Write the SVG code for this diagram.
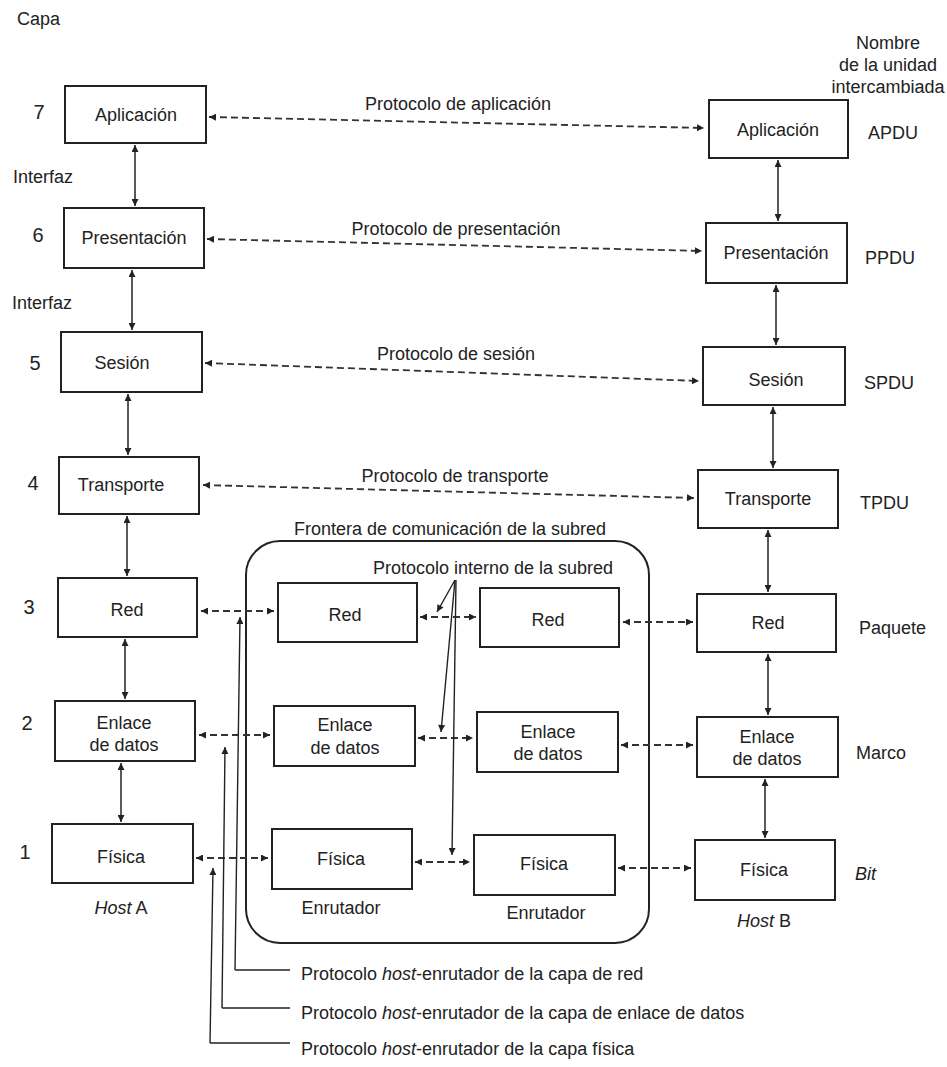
<svg xmlns="http://www.w3.org/2000/svg" width="947" height="1067" viewBox="0 0 947 1067">
<defs>
<marker id="ah" viewBox="0 0 10 10" refX="10" refY="5" markerWidth="10" markerHeight="7" markerUnits="userSpaceOnUse" orient="auto-start-reverse">
<path d="M0,0 L10,5 L0,10 z" fill="#222"/>
</marker>
<style>
.box{fill:#fff;stroke:#222;stroke-width:2}
.t{font-family:"Liberation Sans",Arial,sans-serif;font-size:18px;fill:#222}
.c{text-anchor:middle}
.n{font-family:"Liberation Sans",Arial,sans-serif;font-size:20px;fill:#222;text-anchor:middle}
.d{stroke:#333;stroke-width:1.8;stroke-dasharray:7 4;fill:none;marker-start:url(#ah);marker-end:url(#ah)}
.v{stroke:#222;stroke-width:1.5;fill:none;marker-start:url(#ah);marker-end:url(#ah)}
.s{stroke:#222;stroke-width:1.4;fill:none}
.sa{stroke:#222;stroke-width:1.4;fill:none;marker-end:url(#ah)}
.i{font-style:italic}
</style>
</defs>
<rect width="947" height="1067" fill="#fff"/>

<g id="labels">
<text class="t" x="17" y="25">Capa</text>
<text class="t c" x="888" y="49">Nombre</text>
<text class="t c" x="888" y="71">de la unidad</text>
<text class="t c" x="888" y="93">intercambiada</text>
<text class="n" x="39" y="119">7</text>
<text class="n" x="38" y="242">6</text>
<text class="n" x="35" y="370">5</text>
<text class="n" x="33" y="490">4</text>
<text class="n" x="29" y="614">3</text>
<text class="n" x="27" y="730">2</text>
<text class="n" x="25" y="859">1</text>
<text class="t" x="13" y="183">Interfaz</text>
<text class="t" x="12" y="309">Interfaz</text>
<text class="t" x="868" y="139">APDU</text>
<text class="t" x="865" y="264">PPDU</text>
<text class="t" x="864" y="389">SPDU</text>
<text class="t" x="860" y="509">TPDU</text>
<text class="t" x="859" y="634">Paquete</text>
<text class="t" x="856" y="759">Marco</text>
<text class="t i" x="855" y="880">Bit</text>
<text class="t c" x="121" y="914"><tspan class="i">Host</tspan> A</text>
<text class="t c" x="764" y="927"><tspan class="i">Host</tspan> B</text>
<text class="t c" x="341" y="914">Enrutador</text>
<text class="t c" x="546" y="919">Enrutador</text>
<text class="t c" x="458" y="110">Protocolo de aplicación</text>
<text class="t c" x="456" y="235">Protocolo de presentación</text>
<text class="t c" x="456" y="360">Protocolo de sesión</text>
<text class="t c" x="455" y="482">Protocolo de transporte</text>
<text class="t c" x="450" y="535">Frontera de comunicación de la subred</text>
<text class="t c" x="493" y="574">Protocolo interno de la subred</text>
<text class="t" x="301" y="980">Protocolo <tspan class="i">host</tspan>-enrutador de la capa de red</text>
<text class="t" x="301" y="1019">Protocolo <tspan class="i">host</tspan>-enrutador de la capa de enlace de datos</text>
<text class="t" x="301" y="1055">Protocolo <tspan class="i">host</tspan>-enrutador de la capa física</text>
</g>

<g id="subred">
<rect x="246" y="541" width="403" height="402" rx="34" ry="34" fill="none" stroke="#222" stroke-width="2"/>
</g>

<g id="hostA-aplicacion"><rect class="box" x="65" y="86" width="141" height="57"/><text class="t c" x="136" y="121">Aplicación</text></g>
<g id="hostA-presentacion"><rect class="box" x="64" y="208" width="140" height="60"/><text class="t c" x="134" y="244">Presentación</text></g>
<g id="hostA-sesion"><rect class="box" x="61" y="332" width="141" height="60"/><text class="t c" x="122" y="369">Sesión</text></g>
<g id="hostA-transporte"><rect class="box" x="59" y="457" width="140" height="57"/><text class="t c" x="121" y="491">Transporte</text></g>
<g id="hostA-red"><rect class="box" x="58" y="578" width="139" height="59"/><text class="t c" x="127" y="616">Red</text></g>
<g id="hostA-enlace"><rect class="box" x="55" y="701" width="140" height="60"/><text class="t c" x="124" y="729">Enlace</text><text class="t c" x="124" y="751">de datos</text></g>
<g id="hostA-fisica"><rect class="box" x="52" y="824" width="141" height="59"/><text class="t c" x="121" y="863">Física</text></g>

<g id="hostB-aplicacion"><rect class="box" x="709" y="100" width="139" height="58"/><text class="t c" x="778" y="136">Aplicación</text></g>
<g id="hostB-presentacion"><rect class="box" x="706" y="223" width="141" height="60"/><text class="t c" x="776" y="259">Presentación</text></g>
<g id="hostB-sesion"><rect class="box" x="703" y="347" width="142" height="58"/><text class="t c" x="776" y="386">Sesión</text></g>
<g id="hostB-transporte"><rect class="box" x="698" y="470" width="140" height="58"/><text class="t c" x="768" y="505">Transporte</text></g>
<g id="hostB-red"><rect class="box" x="697" y="594" width="139" height="58"/><text class="t c" x="768" y="629">Red</text></g>
<g id="hostB-enlace"><rect class="box" x="697" y="717" width="141" height="60"/><text class="t c" x="767" y="743">Enlace</text><text class="t c" x="767" y="765">de datos</text></g>
<g id="hostB-fisica"><rect class="box" x="695" y="840" width="140" height="60"/><text class="t c" x="764" y="876">Física</text></g>

<g id="r1-red"><rect class="box" x="278" y="583" width="139" height="59"/><text class="t c" x="345" y="621">Red</text></g>
<g id="r2-red"><rect class="box" x="480" y="588" width="139" height="59"/><text class="t c" x="548" y="626">Red</text></g>
<g id="r1-enlace"><rect class="box" x="274" y="706" width="141" height="60"/><text class="t c" x="345" y="731">Enlace</text><text class="t c" x="345" y="754">de datos</text></g>
<g id="r2-enlace"><rect class="box" x="477" y="712" width="141" height="60"/><text class="t c" x="548" y="738">Enlace</text><text class="t c" x="548" y="760">de datos</text></g>
<g id="r1-fisica"><rect class="box" x="272" y="829" width="140" height="60"/><text class="t c" x="341" y="865">Física</text></g>
<g id="r2-fisica"><rect class="box" x="474" y="835" width="141" height="60"/><text class="t c" x="544" y="870">Física</text></g>

<g id="connectors">
<line class="d" x1="209" y1="117" x2="704" y2="128"/>
<line class="d" x1="207" y1="239" x2="702" y2="251"/>
<line class="d" x1="205" y1="363" x2="699" y2="381"/>
<line class="d" x1="203" y1="485" x2="694" y2="498"/>
<line class="d" x1="201" y1="611" x2="274" y2="611"/>
<line class="d" x1="420" y1="617" x2="476" y2="617"/>
<line class="d" x1="623" y1="622" x2="693" y2="622"/>
<line class="d" x1="199" y1="735" x2="270" y2="735"/>
<line class="d" x1="418" y1="738" x2="473" y2="738"/>
<line class="d" x1="621" y1="745" x2="693" y2="745"/>
<line class="d" x1="196" y1="858" x2="268" y2="858"/>
<line class="d" x1="415" y1="862" x2="470" y2="862"/>
<line class="d" x1="618" y1="868" x2="691" y2="868"/>

<line class="v" x1="135" y1="145" x2="135" y2="206"/>
<line class="v" x1="132" y1="270" x2="132" y2="330"/>
<line class="v" x1="128" y1="394" x2="128" y2="455"/>
<line class="v" x1="127" y1="516" x2="127" y2="576"/>
<line class="v" x1="125" y1="639" x2="125" y2="699"/>
<line class="v" x1="121" y1="763" x2="121" y2="822"/>
<line class="v" x1="778" y1="160" x2="778" y2="221"/>
<line class="v" x1="776" y1="285" x2="776" y2="345"/>
<line class="v" x1="773" y1="407" x2="773" y2="468"/>
<line class="v" x1="768" y1="530" x2="768" y2="592"/>
<line class="v" x1="768" y1="654" x2="768" y2="715"/>
<line class="v" x1="765" y1="779" x2="765" y2="838"/>

<line class="sa" x1="455" y1="580" x2="437" y2="612"/>
<line class="sa" x1="455" y1="580" x2="441" y2="732"/>
<line class="sa" x1="456" y1="580" x2="452" y2="855"/>

<polyline class="s" points="290,970 235,970"/>
<line class="sa" x1="235" y1="970" x2="240" y2="617"/>
<polyline class="s" points="290,1008 222,1008"/>
<line class="sa" x1="222" y1="1008" x2="225" y2="747"/>
<polyline class="s" points="290,1043 210,1043"/>
<line class="sa" x1="210" y1="1043" x2="213" y2="868"/>
</g>
</svg>
